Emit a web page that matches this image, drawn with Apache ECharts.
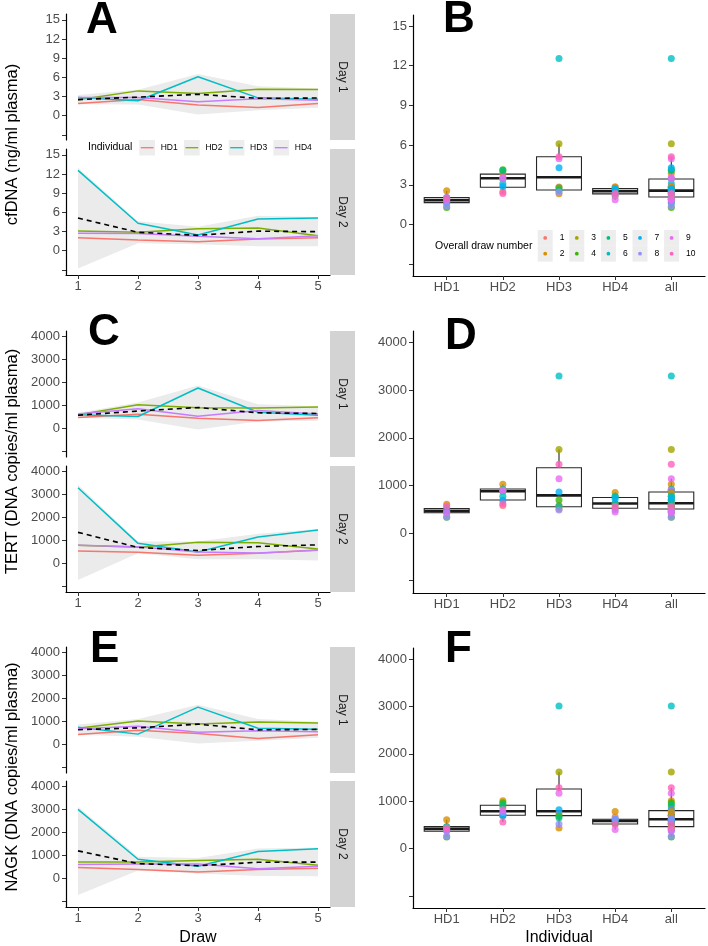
<!DOCTYPE html>
<html><head><meta charset="utf-8">
<script src="https://cdn.jsdelivr.net/npm/echarts@6/dist/echarts.min.js"></script>
<style>html,body{margin:0;padding:0;background:#fff}#c{width:708px;height:946px}</style>
</head><body><div id="c"></div>
<script>
const FONT = '"Liberation Sans", Arial, Helvetica, sans-serif';

// ---------- categories ----------
const draws = [1, 2, 3, 4, 5];
const individuals = ['HD1', 'HD2', 'HD3', 'HD4'];
const boxCategories = ['HD1', 'HD2', 'HD3', 'HD4', 'all'];
const drawNumbers = [1, 2, 3, 4, 5, 6, 7, 8, 9, 10];
const individualColors = ['#F8766D', '#7CAE00', '#00BFC4', '#C77CFF'];
const drawNumberColors = ['#F8766D', '#D89000', '#A3A500', '#39B600', '#00BF7D', '#00BFC4', '#00B0F6', '#9590FF', '#E76BF3', '#FF62BC'];

// ---------- tick labels ----------
const cfdnaTicks = [-3, 0, 3, 6, 9, 12, 15];
const cfdnaLabelled = [0, 3, 6, 9, 12, 15];
const copiesTicks = [-1000, 0, 1000, 2000, 3000, 4000];
const copiesLabelled = [0, 1000, 2000, 3000, 4000];

// ---------- cfDNA (ng/ml plasma) ----------
const cfdnaDay1 = [
  [1.91, 2.55, 1.66, 1.29, 1.91],
  [2.48, 3.88, 3.47, 4.14, 4.09],
  [2.85, 2.33, 6.10, 2.79, 2.59],
  [2.85, 2.85, 2.17, 2.64, 2.43]
];
const cfdnaDay1Mean = [2.52, 2.90, 3.35, 2.72, 2.76];
const cfdnaDay1Low = [1.80, 1.75, 0.20, 0.85, 1.25];
const cfdnaDay1High = [3.25, 4.05, 6.50, 4.60, 4.25];
const cfdnaDay2 = [
  [2.04, 1.67, 1.41, 1.83, 2.04],
  [3.08, 2.87, 3.45, 3.55, 2.35],
  [12.55, 4.29, 2.46, 4.97, 5.12],
  [2.72, 2.67, 2.25, 1.88, 2.35]
];
const cfdnaDay2Mean = [5.10, 2.88, 2.40, 3.06, 2.97];
const cfdnaDay2Low = [-2.80, 1.15, 1.00, 0.70, 0.70];
const cfdnaDay2High = [12.95, 4.60, 3.75, 5.45, 5.25];
const cfdnaBoxLow = [1.29, 2.35, 2.33, 1.88, 1.29];
const cfdnaBoxQ1 = [1.66, 2.82, 2.62, 2.32, 2.09];
const cfdnaBoxMedian = [1.84, 3.50, 3.58, 2.52, 2.57];
const cfdnaBoxQ3 = [2.04, 3.81, 5.12, 2.72, 3.45];
const cfdnaBoxHigh = [2.55, 4.14, 6.10, 2.85, 5.12];

// ---------- TERT (DNA copies/ml plasma) ----------
const tertDay1 = [
  [460, 604, 432, 331, 446],
  [576, 1022, 892, 878, 921],
  [576, 504, 1755, 691, 560],
  [619, 849, 518, 763, 619]
];
const tertDay1Mean = [558, 745, 899, 666, 636];
const tertDay1Low = [450, 371, -60, 290, 320];
const tertDay1High = [666, 1119, 1860, 1040, 955];
const tertDay2 = [
  [526, 467, 336, 423, 569],
  [774, 686, 905, 891, 613],
  [3299, 861, 482, 1139, 1445],
  [774, 715, 482, 438, 555]
];
const tertDay2Mean = [1343, 682, 551, 723, 796];
const tertDay2Low = [-740, 423, 160, 163, 106];
const tertDay2High = [3426, 941, 942, 1283, 1486];
const tertBoxLow = [331, 576, 482, 438, 331];
const tertBoxQ1 = [425, 694, 550, 518, 504];
const tertBoxMedian = [460, 876, 790, 620, 623];
const tertBoxQ3 = [511, 925, 1370, 745, 862];
const tertBoxHigh = [604, 1022, 1755, 849, 1139];

// ---------- NAGK (DNA copies/ml plasma) ----------
const nagkDay1 = [
  [419, 606, 462, 245, 404],
  [693, 1011, 881, 968, 924],
  [736, 433, 1617, 693, 650],
  [664, 780, 520, 578, 534]
];
const nagkDay1Mean = [628, 708, 870, 621, 640];
const nagkDay1Low = [402, 315, 25, 145, 276];
const nagkDay1High = [854, 1101, 1715, 1097, 980];
const nagkDay2 = [
  [460, 374, 259, 374, 432],
  [705, 705, 763, 820, 561],
  [3007, 820, 518, 1165, 1281],
  [590, 619, 619, 403, 518]
];
const nagkDay2Mean = [1190, 630, 540, 690, 698];
const nagkDay2Low = [-743, 329, 202, 91, 74];
const nagkDay2High = [3123, 931, 878, 1289, 1322];
const nagkBoxLow = [245, 561, 433, 403, 245];
const nagkBoxQ1 = [365, 702, 695, 519, 463];
const nagkBoxMedian = [414, 786, 786, 582, 618];
const nagkBoxQ3 = [463, 912, 1256, 618, 800];
const nagkBoxHigh = [606, 1011, 1617, 664, 1281];

// ---------- layout (positions only) ----------
const LINE_LEFT = 66, LINE_W = 264, STRIP_W = 25, PANEL_H = 126;
const BOX_LEFT = 413, BOX_W = 292;
const rows = [
  { letterL: 'A', letterR: 'B', day1Top: 14, day2Top: 149, boxTop: 15, boxH: 261, titleY: 144.5,
    yTitle: 'cfDNA (ng/ml plasma)', range: [-3.8, 15.9], boxRange: [-3.88, 15.83],
    ticks: cfdnaTicks, labelled: cfdnaLabelled,
    day1: cfdnaDay1, day1Mean: cfdnaDay1Mean, day1Low: cfdnaDay1Low, day1High: cfdnaDay1High,
    day2: cfdnaDay2, day2Mean: cfdnaDay2Mean, day2Low: cfdnaDay2Low, day2High: cfdnaDay2High,
    box: [cfdnaBoxLow, cfdnaBoxQ1, cfdnaBoxMedian, cfdnaBoxQ3, cfdnaBoxHigh],
    letterLPos: [86, 20.5], letterRPos: [443, 19.5] },
  { letterL: 'C', letterR: 'D', day1Top: 331, day2Top: 466, boxTop: 331, boxH: 262, titleY: 461.5,
    yTitle: 'TERT (DNA copies/ml plasma)', range: [-1270, 4250], boxRange: [-1262, 4245],
    ticks: copiesTicks, labelled: copiesLabelled,
    day1: tertDay1, day1Mean: tertDay1Mean, day1Low: tertDay1Low, day1High: tertDay1High,
    day2: tertDay2, day2Mean: tertDay2Mean, day2Low: tertDay2Low, day2High: tertDay2High,
    box: [tertBoxLow, tertBoxQ1, tertBoxMedian, tertBoxQ3, tertBoxHigh],
    letterLPos: [88, 333], letterRPos: [445, 337] },
  { letterL: 'E', letterR: 'F', day1Top: 647, day2Top: 781, boxTop: 648, boxH: 260, titleY: 777,
    yTitle: 'NAGK (DNA copies/ml plasma)', range: [-1270, 4250], boxRange: [-1255, 4232],
    ticks: copiesTicks, labelled: copiesLabelled,
    day1: nagkDay1, day1Mean: nagkDay1Mean, day1Low: nagkDay1Low, day1High: nagkDay1High,
    day2: nagkDay2, day2Mean: nagkDay2Mean, day2Low: nagkDay2Low, day2High: nagkDay2High,
    box: [nagkBoxLow, nagkBoxQ1, nagkBoxMedian, nagkBoxQ3, nagkBoxHigh],
    letterLPos: [90, 650], letterRPos: [445, 649.5] }
];

const grid = [], xAxis = [], yAxis = [], series = [], graphic = [];
const tickLabel = { color: '#4D4D4D', fontSize: 13, fontFamily: FONT };

function yAxisCfg(gi, range, ticks, labelled) {
  return {
    gridIndex: gi, type: 'value', min: range[0], max: range[1],
    axisLine: { show: true, onZero: false, lineStyle: { color: '#000', width: 1.2 } },
    axisTick: { show: true, length: 4, customValues: ticks, lineStyle: { color: '#333', width: 1 } },
    axisLabel: Object.assign({ customValues: ticks, margin: 6,
      formatter: v => (labelled.indexOf(v) >= 0 ? String(v) : '') }, tickLabel),
    splitLine: { show: false }
  };
}

function ribbonSeries(gi, low, high) {
  return {
    type: 'custom', xAxisIndex: gi, yAxisIndex: gi, silent: true, z: 1,
    data: draws.map((d, i) => [d, low[i], high[i]]),
    renderItem: function (params, api) {
      if (params.dataIndexInside !== 0) return null;
      const n = params.dataInsideLength;
      const up = [], dn = [];
      for (let i = 0; i < n; i++) {
        up.push(api.coord([api.value(0, i), api.value(2, i)]));
        dn.unshift(api.coord([api.value(0, i), api.value(1, i)]));
      }
      return { type: 'polygon', shape: { points: up.concat(dn) }, style: { fill: '#EBEBEB' } };
    }
  };
}

function addLinePanel(row, dayIdx, top, showX) {
  const gi = grid.length;
  grid.push({ left: LINE_LEFT, top: top, width: LINE_W, height: PANEL_H, containLabel: false });
  xAxis.push({
    gridIndex: gi, type: 'value', min: 0.8, max: 5.2, show: showX,
    axisLine: { show: true, onZero: false, lineStyle: { color: '#000', width: 1.2 } },
    axisTick: { show: true, length: 4, customValues: draws, lineStyle: { color: '#333' } },
    axisLabel: Object.assign({ customValues: draws, margin: 5 }, tickLabel),
    splitLine: { show: false }
  });
  yAxis.push(yAxisCfg(gi, row.range, row.ticks, row.labelled));
  const vals = dayIdx === 0 ? row.day1 : row.day2;
  const mean = dayIdx === 0 ? row.day1Mean : row.day2Mean;
  const lo = dayIdx === 0 ? row.day1Low : row.day2Low;
  const hi = dayIdx === 0 ? row.day1High : row.day2High;
  series.push(ribbonSeries(gi, lo, hi));
  individuals.forEach((name, k) => {
    series.push({
      type: 'line', xAxisIndex: gi, yAxisIndex: gi, name: name, silent: true, z: 3,
      symbol: 'none', data: draws.map((d, i) => [d, vals[k][i]]),
      lineStyle: { color: individualColors[k], width: 1.5 }
    });
  });
  series.push({
    type: 'line', xAxisIndex: gi, yAxisIndex: gi, silent: true, z: 4, symbol: 'none',
    data: draws.map((d, i) => [d, mean[i]]),
    lineStyle: { color: '#000', width: 1.6, type: [5, 4] }
  });
  // strip
  graphic.push({ type: 'rect', silent: true, shape: { x: LINE_LEFT + LINE_W, y: top, width: STRIP_W, height: PANEL_H },
    style: { fill: '#D3D3D3' } });
  graphic.push({ type: 'text', silent: true, x: LINE_LEFT + LINE_W + STRIP_W / 2, y: top + PANEL_H / 2, rotation: -Math.PI / 2,
    style: { text: 'Day ' + (dayIdx + 1), fill: '#1A1A1A', font: '12px ' + FONT, align: 'center', verticalAlign: 'middle' } });
}

function addBoxPanel(row) {
  const gi = grid.length;
  grid.push({ left: BOX_LEFT, top: row.boxTop, width: BOX_W, height: row.boxH, containLabel: false });
  const cats = boxCategories.map((c, i) => i + 1);
  xAxis.push({
    gridIndex: gi, type: 'value', min: 0.4, max: 5.6,
    axisLine: { show: true, onZero: false, lineStyle: { color: '#000', width: 1.2 } },
    axisTick: { show: true, length: 4, customValues: cats, lineStyle: { color: '#333' } },
    axisLabel: Object.assign({ customValues: cats, margin: 5, formatter: v => boxCategories[Math.round(v) - 1] || '' }, tickLabel),
    splitLine: { show: false }
  });
  yAxis.push(yAxisCfg(gi, row.boxRange, row.ticks, row.labelled));
  const b = row.box;
  series.push({
    type: 'custom', xAxisIndex: gi, yAxisIndex: gi, silent: true, z: 2,
    data: boxCategories.map((c, i) => [i + 1, b[0][i], b[1][i], b[2][i], b[3][i], b[4][i]]),
    renderItem: function (params, api) {
      const x = api.value(0);
      const pLo = api.coord([x, api.value(1)]), pQ1 = api.coord([x, api.value(2)]);
      const pMed = api.coord([x, api.value(3)]), pQ3 = api.coord([x, api.value(4)]);
      const pHi = api.coord([x, api.value(5)]);
      const hw = api.size([0.8, 0])[0] / 2;
      const st = { stroke: '#262626', lineWidth: 1.1 };
      return { type: 'group', children: [
        { type: 'line', shape: { x1: pLo[0], y1: pLo[1], x2: pQ1[0], y2: pQ1[1] }, style: st },
        { type: 'line', shape: { x1: pQ3[0], y1: pQ3[1], x2: pHi[0], y2: pHi[1] }, style: st },
        { type: 'rect', shape: { x: pQ1[0] - hw, y: pQ3[1], width: 2 * hw, height: pQ1[1] - pQ3[1] },
          style: { fill: '#fff', stroke: '#262626', lineWidth: 1.1 } },
        { type: 'line', shape: { x1: pMed[0] - hw, y1: pMed[1], x2: pMed[0] + hw, y2: pMed[1] },
          style: { stroke: '#1A1A1A', lineWidth: 2.6 } }
      ] };
    }
  });
  // points: per individual, then all
  const pts = [];
  const allPts = [];
  individuals.forEach((name, k) => {
    [row.day1, row.day2].forEach((dayVals, d) => {
      draws.forEach((dr, i) => {
        const num = d * 5 + i;
        pts.push({ value: [k + 1, dayVals[k][i]], itemStyle: { color: drawNumberColors[num] } });
        allPts.push({ value: [5, dayVals[k][i]], itemStyle: { color: drawNumberColors[num] } });
      });
    });
  });
  series.push({
    type: 'scatter', xAxisIndex: gi, yAxisIndex: gi, silent: true, z: 5, symbolSize: 7,
    data: pts.concat(allPts)
  });
}

rows.forEach(row => {
  addLinePanel(row, 0, row.day1Top, false);
  addLinePanel(row, 1, row.day2Top, true);
  addBoxPanel(row);
  // panel letters
  graphic.push({ type: 'text', silent: true, x: row.letterLPos[0], y: row.letterLPos[1], z: 100,
    style: { text: row.letterL, fill: '#000', font: 'bold 44px ' + FONT, align: 'left', verticalAlign: 'middle' } });
  graphic.push({ type: 'text', silent: true, x: row.letterRPos[0], y: row.letterRPos[1], z: 100,
    style: { text: row.letterR, fill: '#000', font: 'bold 44px ' + FONT, align: 'left', verticalAlign: 'middle' } });
  // y title
  graphic.push({ type: 'text', silent: true, x: 12, y: row.titleY, rotation: Math.PI / 2,
    style: { text: row.yTitle, fill: '#000', font: '16.5px ' + FONT, align: 'center', verticalAlign: 'middle' } });
});

// x titles
graphic.push({ type: 'text', silent: true, x: LINE_LEFT + LINE_W / 2, y: 938,
  style: { text: 'Draw', fill: '#000', font: '16px ' + FONT, align: 'center', verticalAlign: 'middle' } });
graphic.push({ type: 'text', silent: true, x: BOX_LEFT + BOX_W / 2, y: 938,
  style: { text: 'Individual', fill: '#000', font: '16px ' + FONT, align: 'center', verticalAlign: 'middle' } });

// legend "Individual" (panel A)
graphic.push({ type: 'text', silent: true, x: 88, y: 147.5, z: 50,
  style: { text: 'Individual', fill: '#000', font: '10.5px ' + FONT, align: 'left', verticalAlign: 'middle' } });
individuals.forEach((name, k) => {
  const cx = 139.3 + k * 44.7;
  graphic.push({ type: 'rect', silent: true, z: 50, shape: { x: cx, y: 140, width: 15.7, height: 15.5 }, style: { fill: '#EDEDED' } });
  graphic.push({ type: 'line', silent: true, z: 51, shape: { x1: cx + 1.5, y1: 147.7, x2: cx + 14.2, y2: 147.7 },
    style: { stroke: individualColors[k], lineWidth: 1.3 } });
  graphic.push({ type: 'text', silent: true, z: 51, x: cx + 21.4, y: 147.7,
    style: { text: name, fill: '#000', font: '8.5px ' + FONT, align: 'left', verticalAlign: 'middle' } });
});

// legend "Overall draw number" (panel B)
graphic.push({ type: 'text', silent: true, x: 435, y: 246, z: 50,
  style: { text: 'Overall draw number', fill: '#000', font: '10.5px ' + FONT, align: 'left', verticalAlign: 'middle' } });
drawNumbers.forEach((n, i) => {
  const col = Math.floor(i / 2), r = i % 2;
  const cx = 537.7 + col * 31.6, cy = 230 + r * 15.8;
  graphic.push({ type: 'rect', silent: true, z: 50, shape: { x: cx, y: cy, width: 15, height: 15.8 }, style: { fill: '#EDEDED' } });
  graphic.push({ type: 'circle', silent: true, z: 51, shape: { cx: cx + 7.5, cy: cy + 7.9, r: 1.9 }, style: { fill: drawNumberColors[i] } });
  graphic.push({ type: 'text', silent: true, z: 51, x: cx + 22, y: cy + 7.9,
    style: { text: String(n), fill: '#000', font: '8.5px ' + FONT, align: 'left', verticalAlign: 'middle' } });
});

const chart = echarts.init(document.getElementById('c'), null, { renderer: 'canvas' });
chart.setOption({
  animation: false, backgroundColor: '#fff',
  grid: grid, xAxis: xAxis, yAxis: yAxis, series: series, graphic: graphic
});
</script></body></html>
